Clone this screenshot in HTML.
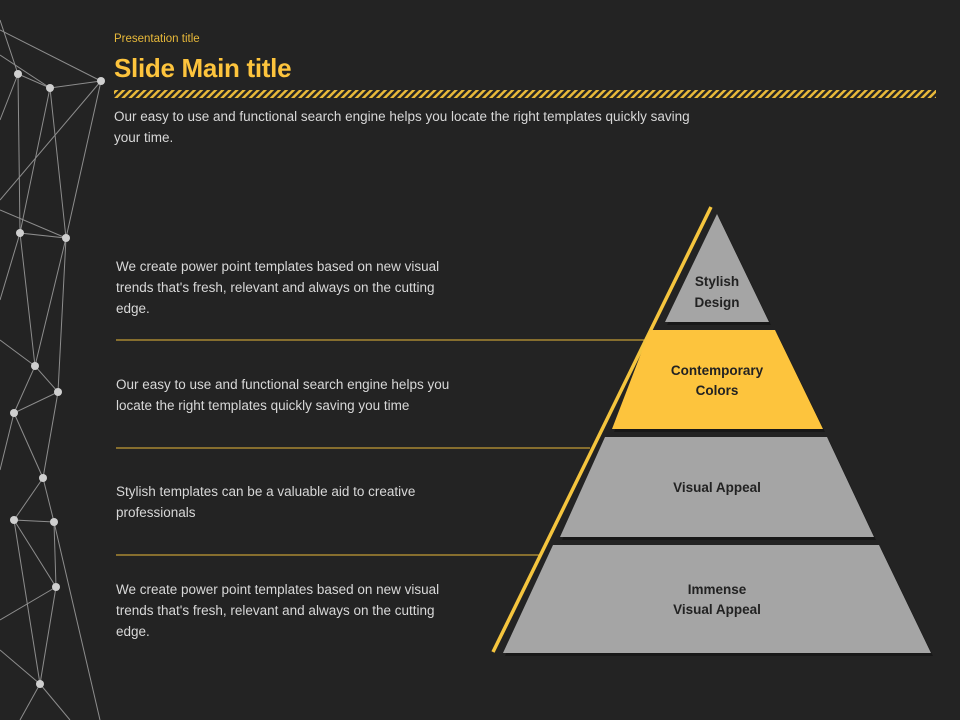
<!DOCTYPE html>
<html><head><meta charset="utf-8"><style>
body{margin:0;width:960px;height:720px;background:#232323;overflow:hidden;position:relative;font-family:"Liberation Sans",sans-serif;}
.t{position:absolute;color:#d8d8d8;font-size:13.5px;line-height:21px;}
</style></head><body>
<svg width="960" height="720" style="position:absolute;left:0;top:0">
<defs><pattern id="h" width="5" height="5" patternUnits="userSpaceOnUse" patternTransform="rotate(45)"><rect width="2.5" height="5" fill="#e8b93a"/></pattern></defs>
<g stroke="#a8a8a8" stroke-width="1" opacity="0.8" fill="none">
<polyline points="0,20 18,74 50,88 101,81 0,30"/>
<polyline points="0,55 50,88 20,233 66,238 50,88"/>
<line x1="18" y1="74" x2="20" y2="233"/><line x1="101" y1="81" x2="66" y2="238"/>
<line x1="101" y1="81" x2="0" y2="200"/><line x1="18" y1="74" x2="0" y2="120"/>
<polyline points="20,233 35,366 66,238 58,392 35,366 14,413 58,392"/>
<line x1="0" y1="210" x2="66" y2="238"/><line x1="0" y1="300" x2="20" y2="233"/>
<polyline points="14,413 43,478 58,392"/><polyline points="43,478 14,520 54,522 43,478"/>
<polyline points="14,520 56,587 54,522"/><line x1="56" y1="587" x2="40" y2="684"/>
<line x1="14" y1="520" x2="40" y2="684"/><line x1="40" y1="684" x2="0" y2="650"/>
<line x1="40" y1="684" x2="70" y2="720"/><line x1="56" y1="587" x2="0" y2="620"/>
<line x1="35" y1="366" x2="0" y2="340"/><line x1="14" y1="413" x2="0" y2="470"/>
<line x1="54" y1="522" x2="100" y2="720"/><line x1="40" y1="684" x2="20" y2="720"/>
</g>
<g fill="#cfcfcf">
<circle cx="18" cy="74" r="4"/><circle cx="50" cy="88" r="4"/><circle cx="101" cy="81" r="4"/>
<circle cx="20" cy="233" r="4"/><circle cx="66" cy="238" r="4"/><circle cx="35" cy="366" r="4"/>
<circle cx="58" cy="392" r="4"/><circle cx="14" cy="413" r="4"/><circle cx="43" cy="478" r="4"/>
<circle cx="14" cy="520" r="4"/><circle cx="54" cy="522" r="4"/><circle cx="56" cy="587" r="4"/><circle cx="40" cy="684" r="4"/>
</g>
<rect x="114" y="90" width="822" height="8" fill="url(#h)"/>
<g stroke="#e8b93a" stroke-width="1"><line x1="116" y1="340" x2="645" y2="340"/><line x1="116" y1="448" x2="590" y2="448"/><line x1="116" y1="555" x2="540" y2="555"/></g>
<line x1="711" y1="207" x2="493" y2="652" stroke="#f5c53e" stroke-width="3.5"/>
<g fill="#111" opacity="0.6"><polygon points="719,217 771,325 667,325"/><polygon points="652,333 777,333 825,432 614,432"/><polygon points="607,440 829,440 876,540 562,540"/><polygon points="555,548 881,548 933,656 505,656"/></g>
<polygon points="717,214 769,322 665,322" fill="#a5a5a5"/>
<polygon points="650,330 775,330 823,429 612,429" fill="#fdc43d"/>
<polygon points="605,437 827,437 874,537 560,537" fill="#a5a5a5"/>
<polygon points="553,545 879,545 931,653 503,653" fill="#a5a5a5"/>
<g font-family="Liberation Sans,sans-serif" font-size="13.5" font-weight="bold" fill="#222" text-anchor="middle">
<text x="717" y="286">Stylish</text><text x="717" y="307">Design</text>
<text x="717" y="375">Contemporary</text><text x="717" y="395">Colors</text>
<text x="717" y="492">Visual Appeal</text>
<text x="717" y="594">Immense</text><text x="717" y="614">Visual Appeal</text>
</g>
</svg>
<div style="position:absolute;left:114px;top:33px;color:#e8b93a;font-size:11.5px;">Presentation title</div>
<div style="position:absolute;left:114px;top:53px;color:#fdc43d;font-size:26px;font-weight:bold;letter-spacing:-0.3px;">Slide Main title</div>
<div class="t" style="left:114px;top:106px;width:600px;">Our easy to use and functional search engine helps you locate the right templates quickly saving your time.</div>
<div class="t" style="left:116px;top:256px;width:340px;">We create power point templates based on new visual trends that's fresh, relevant and always on the cutting edge.</div>
<div class="t" style="left:116px;top:374px;width:340px;">Our easy to use and functional search engine helps you locate the right templates quickly saving you time</div>
<div class="t" style="left:116px;top:481px;width:340px;">Stylish templates can be a valuable aid to creative professionals</div>
<div class="t" style="left:116px;top:579px;width:340px;">We create power point templates based on new visual trends that's fresh, relevant and always on the cutting edge.</div>
</body></html>
